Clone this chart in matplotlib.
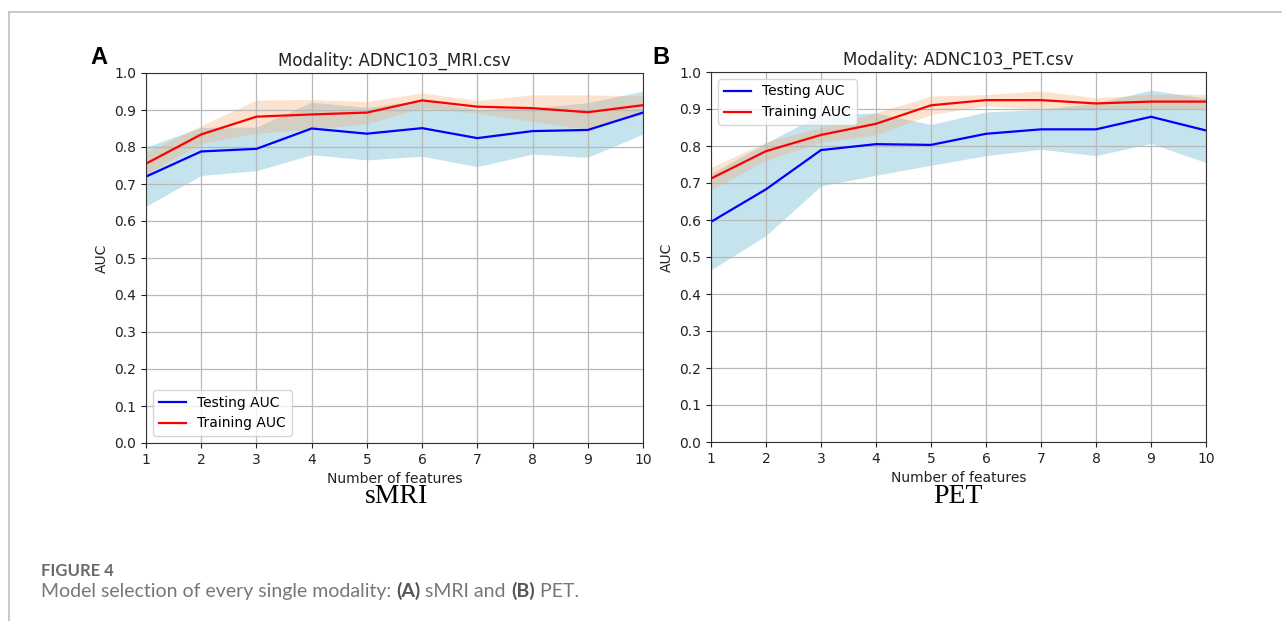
import numpy as np
import matplotlib
matplotlib.use("Agg")
import matplotlib.pyplot as plt
from matplotlib.lines import Line2D

# ── data ────────────────────────────────────────────────────────────────────
N_FEATURES = list(range(1, 11))

# panel A – sMRI
MRI_TEST = [0.720, 0.788, 0.795, 0.850, 0.836, 0.851, 0.824, 0.843, 0.846, 0.893]
MRI_TEST_STD = [0.080, 0.065, 0.059, 0.071, 0.071, 0.076, 0.077, 0.062, 0.074, 0.058]
MRI_TRAIN = [0.755, 0.834, 0.882, 0.888, 0.893, 0.926, 0.909, 0.905, 0.894, 0.913]
MRI_TRAIN_STD = [0.030, 0.024, 0.045, 0.040, 0.030, 0.020, 0.017, 0.036, 0.047, 0.025]

# panel B – PET
PET_TEST = [0.595, 0.683, 0.789, 0.805, 0.803, 0.833, 0.845, 0.845, 0.879, 0.842]
PET_TEST_STD = [0.130, 0.125, 0.097, 0.084, 0.055, 0.059, 0.054, 0.071, 0.072, 0.087]
PET_TRAIN = [0.712, 0.786, 0.830, 0.860, 0.910, 0.924, 0.924, 0.915, 0.920, 0.920]
PET_TRAIN_STD = [0.030, 0.025, 0.020, 0.030, 0.025, 0.015, 0.025, 0.015, 0.020, 0.020]

W, H = 1282, 621
fig = plt.figure(figsize=(W / 100, H / 100), dpi=100)


def px_axes(left, top, right, bottom):
    return fig.add_axes([left / W, 1 - bottom / H, (right - left) / W, (bottom - top) / H])


def draw_panel(ax, test, test_std, train, train_std, title, legend_loc):
    x = np.array(N_FEATURES)
    test, test_std = np.array(test), np.array(test_std)
    train, train_std = np.array(train), np.array(train_std)
    ax.fill_between(x, test - test_std, test + test_std, color="lightblue", alpha=0.7, lw=0)
    ax.plot(x, test, color="blue", lw=1.6, label="Testing AUC")
    ax.fill_between(x, train - train_std, train + train_std, color="sandybrown", alpha=0.3, lw=0)
    ax.plot(x, train, color="red", lw=1.6, label="Training AUC")
    ax.set_xlim(1, 10)
    ax.set_ylim(0, 1.0)
    ax.set_xticks(N_FEATURES)
    ax.set_yticks(np.arange(0, 1.01, 0.1))
    ax.set_yticklabels([f"{v:.1f}" for v in np.arange(0, 1.01, 0.1)])
    ax.tick_params(labelsize=10, colors="#222222")
    ax.grid(True, color="#b8b8b8", lw=0.9)
    for sp in ax.spines.values():
        sp.set_color("#333333")
    ax.set_title(title, fontsize=12, color="#222222", pad=5)
    ax.set_xlabel("Number of features", fontsize=10, color="#222222", labelpad=4)
    ax.set_ylabel("AUC", fontsize=10, color="#222222", labelpad=4)
    ax.legend(loc=legend_loc, fontsize=10, framealpha=0.8, handlelength=2.0)


ax_a = px_axes(146, 73, 643, 443)
draw_panel(ax_a, MRI_TEST, MRI_TEST_STD, MRI_TRAIN, MRI_TRAIN_STD,
           "Modality: ADNC103_MRI.csv", "lower left")
ax_b = px_axes(711, 72, 1206, 442)
draw_panel(ax_b, PET_TEST, PET_TEST_STD, PET_TRAIN, PET_TRAIN_STD,
           "Modality: ADNC103_PET.csv", "upper left")

# panel letters and sub-captions
fig.text(99 / W, 1 - 57 / H, "A", fontsize=17, fontweight="bold",
         family="Liberation Sans", ha="center", va="center")
fig.text(661 / W, 1 - 57 / H, "B", fontsize=17, fontweight="bold",
         family="Liberation Sans", ha="center", va="center")
fig.text(397 / W, 1 - 503 / H, "sMRI", fontsize=20, family="Liberation Serif",
         ha="center", va="baseline")
fig.text(958 / W, 1 - 503 / H, "PET", fontsize=20, family="Liberation Serif",
         ha="center", va="baseline")

# figure caption
fig.text(41 / W, 1 - 576 / H, "FIGURE 4", fontsize=12, family="Lato",
         fontweight="bold", color="#6a6a6a", va="baseline")
cap = fig.text(41 / W, 1 - 597 / H, "Model selection of every single modality: ", fontsize=14,
               family="Lato", color="#777777", va="baseline")
fig.canvas.draw()
r = fig.canvas.get_renderer()
xpos = cap.get_window_extent(r).x1
parts = [("(A)", "bold", "#555555"), (" sMRI and ", "normal", "#777777"),
         ("(B)", "bold", "#555555"), (" PET.", "normal", "#777777")]
for txt, wt, col in parts:
    t = fig.text(xpos / W, 1 - 597 / H, txt, fontsize=14, family="Lato",
                 fontweight=wt, color=col, va="baseline")
    xpos = t.get_window_extent(r).x1

# page frame lines
fig.add_artist(Line2D([9 / W, 1], [1 - 12 / H, 1 - 12 / H], color="#c0c0c0", lw=1.2))
fig.add_artist(Line2D([9 / W, 9 / W], [0, 1 - 12 / H], color="#c0c0c0", lw=1.2))

fig.savefig("out.png", dpi=100)
